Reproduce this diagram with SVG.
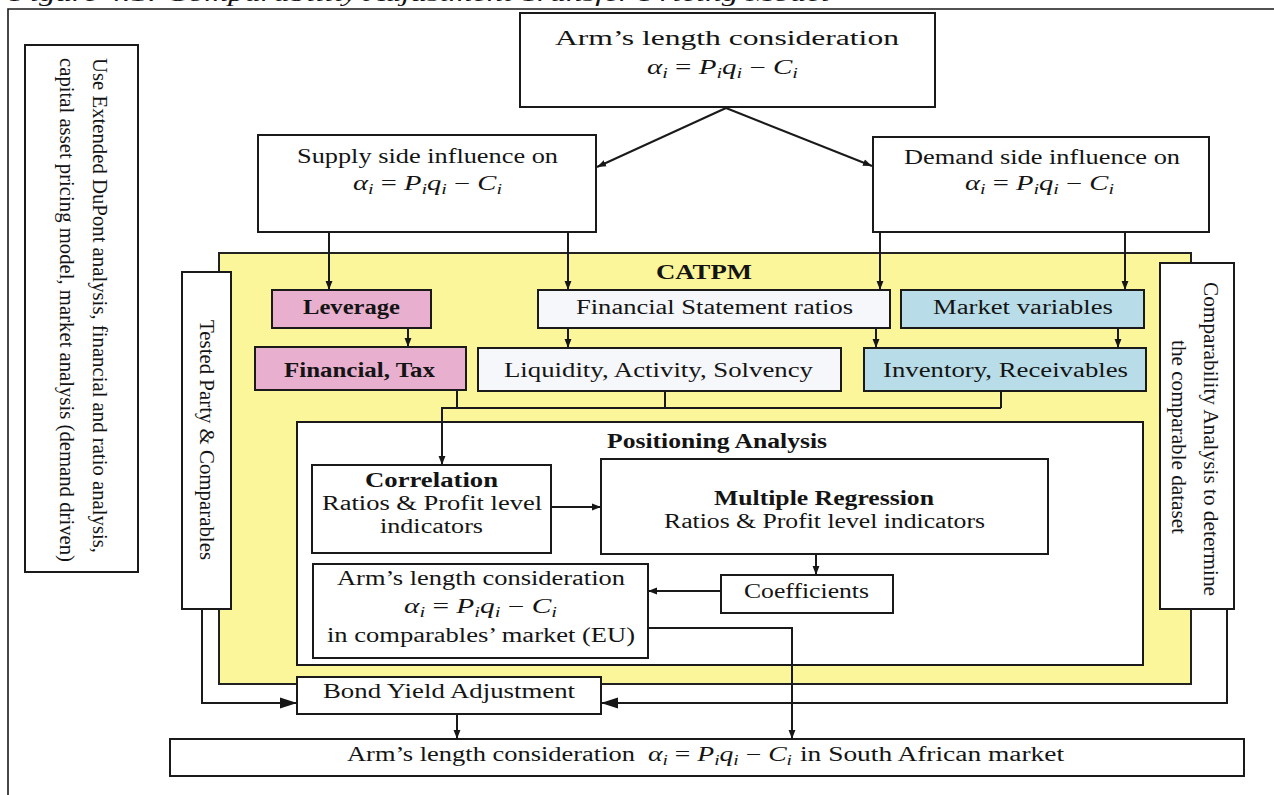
<svg xmlns="http://www.w3.org/2000/svg" width="1274" height="795" viewBox="0 0 1274 795">
  <defs>
    <marker id="ah" viewBox="0 0 10 10" refX="10" refY="5" markerWidth="9" markerHeight="9" markerUnits="userSpaceOnUse" orient="auto">
      <path d="M0,1.2 L10,5 L0,8.8 z" fill="#161616"/>
    </marker>
    <marker id="ahBig" viewBox="0 0 10 10" refX="10" refY="5" markerWidth="17" markerHeight="17" markerUnits="userSpaceOnUse" orient="auto">
      <path d="M0,1.8 L10,5 L0,8.2 z" fill="#161616"/>
    </marker>
  </defs>
  <style>
    .box{fill:#ffffff;stroke:#1a1a1a;stroke-width:2}
    .pink{fill:#E8AFCF}
    .blue{fill:#B8DDE8}
    .pale{fill:#F6F7FB}
    .panel{fill:#FCF69A;stroke:#222;stroke-width:2}
    .frame{fill:none;stroke:#1a1a1a;stroke-width:1.6}
    .t{font-family:"Liberation Serif","Times New Roman",serif;font-size:20px;fill:#141414}
    .b{font-weight:bold}
    .it{font-style:italic}
    .wire{fill:none;stroke:#1a1a1a;stroke-width:2}
    .arrow{marker-end:url(#ah)}
    .big{marker-end:url(#ahBig)}
  </style>

  <rect width="1274" height="795" fill="#ffffff"/>

  <!-- page caption, running off the top edge -->
  <text class="t it" x="10" y="0.5" font-size="22" textLength="820" lengthAdjust="spacingAndGlyphs">Figure 4.1: Comparability Adjustment Transfer Pricing Model</text>
  <path class="frame" d="M8,795 V9 H1274"/>

  <!-- CATPM panel -->
  <g id="catpm">
    <rect class="panel" x="219" y="253" width="972" height="431"/>
    <text class="t b" x="656" y="279" textLength="96" lengthAdjust="spacingAndGlyphs">CATPM</text>
  </g>

  <g id="method-note">
    <rect class="box" x="25" y="45" width="113" height="527"/>
    <text class="t" font-size="21" transform="translate(93,58) rotate(90)" textLength="495" lengthAdjust="spacingAndGlyphs">Use Extended DuPont analysis, financial and ratio analysis,</text>
    <text class="t" font-size="21" transform="translate(60,58) rotate(90)" textLength="504" lengthAdjust="spacingAndGlyphs">capital asset pricing model, market analysis (demand driven)</text>
  </g>

  <g id="arm-top">
    <rect class="box" x="520" y="13" width="415" height="94"/>
    <text class="t" font-size="22" x="555" y="45" textLength="344" lengthAdjust="spacingAndGlyphs">Arm’s length consideration</text>
    <text class="t" font-size="21" x="647" y="74" textLength="151" lengthAdjust="spacingAndGlyphs"><tspan class="it">α</tspan><tspan class="it" font-size="14" dy="4">i</tspan><tspan dy="-4"> = </tspan><tspan class="it">P</tspan><tspan class="it" font-size="14" dy="4">i</tspan><tspan class="it" dy="-4">q</tspan><tspan class="it" font-size="14" dy="4">i</tspan><tspan dy="-4"> − </tspan><tspan class="it">C</tspan><tspan class="it" font-size="14" dy="4">i</tspan></text>
  </g>

  <g id="supply">
    <rect class="box" x="258" y="135" width="338" height="97"/>
    <text class="t" x="297" y="163" textLength="261" lengthAdjust="spacingAndGlyphs">Supply side influence on</text>
    <text class="t" font-size="21" x="353" y="190" textLength="149" lengthAdjust="spacingAndGlyphs"><tspan class="it">α</tspan><tspan class="it" font-size="14" dy="4">i</tspan><tspan dy="-4"> = </tspan><tspan class="it">P</tspan><tspan class="it" font-size="14" dy="4">i</tspan><tspan class="it" dy="-4">q</tspan><tspan class="it" font-size="14" dy="4">i</tspan><tspan dy="-4"> − </tspan><tspan class="it">C</tspan><tspan class="it" font-size="14" dy="4">i</tspan></text>
  </g>

  <g id="demand">
    <rect class="box" x="873" y="137" width="336" height="95"/>
    <text class="t" x="904" y="164" textLength="276" lengthAdjust="spacingAndGlyphs">Demand side influence on</text>
    <text class="t" font-size="21" x="965" y="190" textLength="149" lengthAdjust="spacingAndGlyphs"><tspan class="it">α</tspan><tspan class="it" font-size="14" dy="4">i</tspan><tspan dy="-4"> = </tspan><tspan class="it">P</tspan><tspan class="it" font-size="14" dy="4">i</tspan><tspan class="it" dy="-4">q</tspan><tspan class="it" font-size="14" dy="4">i</tspan><tspan dy="-4"> − </tspan><tspan class="it">C</tspan><tspan class="it" font-size="14" dy="4">i</tspan></text>
  </g>

  <g id="tested-party">
    <rect class="box" x="182" y="272" width="49" height="337"/>
    <text class="t" font-size="21" transform="translate(200,320) rotate(90)" textLength="240" lengthAdjust="spacingAndGlyphs">Tested Party &amp; Comparables</text>
  </g>

  <g id="comparability">
    <rect class="box" x="1160" y="263" width="74" height="346"/>
    <text class="t" font-size="21" transform="translate(1204,282) rotate(90)" textLength="314" lengthAdjust="spacingAndGlyphs">Comparability Analysis to determine</text>
    <text class="t" font-size="21" transform="translate(1172,340) rotate(90)" textLength="194" lengthAdjust="spacingAndGlyphs">the comparable dataset</text>
  </g>

  <g id="leverage">
    <rect class="box pink" x="272" y="290" width="159" height="38"/>
    <text class="t b" x="303" y="314" textLength="97" lengthAdjust="spacingAndGlyphs">Leverage</text>
  </g>

  <g id="financial-tax">
    <rect class="box pink" x="255" y="347" width="211" height="43"/>
    <text class="t b" x="284" y="377" textLength="151" lengthAdjust="spacingAndGlyphs">Financial, Tax</text>
  </g>

  <g id="fs-ratios">
    <rect class="box pale" x="538" y="290" width="352" height="38"/>
    <text class="t" x="576" y="314" textLength="277" lengthAdjust="spacingAndGlyphs">Financial Statement ratios</text>
  </g>

  <g id="liquidity">
    <rect class="box pale" x="478" y="348" width="363" height="43"/>
    <text class="t" x="504" y="377" textLength="309" lengthAdjust="spacingAndGlyphs">Liquidity, Activity, Solvency</text>
  </g>

  <g id="market-variables">
    <rect class="box blue" x="901" y="290" width="243" height="38"/>
    <text class="t" x="933" y="314" textLength="180" lengthAdjust="spacingAndGlyphs">Market variables</text>
  </g>

  <g id="inventory">
    <rect class="box blue" x="864" y="348" width="282" height="43"/>
    <text class="t" x="883" y="377" textLength="245" lengthAdjust="spacingAndGlyphs">Inventory, Receivables</text>
  </g>

  <g id="positioning">
    <rect class="box" x="297" y="422" width="846" height="243"/>
    <text class="t b" x="607" y="448" textLength="220" lengthAdjust="spacingAndGlyphs">Positioning Analysis</text>
  </g>

  <g id="correlation">
    <rect class="box" x="312" y="465" width="239" height="88"/>
    <text class="t b" x="365" y="487" textLength="133" lengthAdjust="spacingAndGlyphs">Correlation</text>
    <text class="t" x="322" y="510" textLength="220" lengthAdjust="spacingAndGlyphs">Ratios &amp; Profit level</text>
    <text class="t" x="380" y="533" textLength="103" lengthAdjust="spacingAndGlyphs">indicators</text>
  </g>

  <g id="regression">
    <rect class="box" x="601" y="459" width="447" height="95"/>
    <text class="t b" x="714" y="505" textLength="220" lengthAdjust="spacingAndGlyphs">Multiple Regression</text>
    <text class="t" x="664" y="528" textLength="321" lengthAdjust="spacingAndGlyphs">Ratios &amp; Profit level indicators</text>
  </g>

  <g id="coefficients">
    <rect class="box" x="721" y="575" width="172" height="38"/>
    <text class="t" x="744" y="598" textLength="125" lengthAdjust="spacingAndGlyphs">Coefficients</text>
  </g>

  <g id="arm-eu">
    <rect class="box" x="313" y="564" width="335" height="94"/>
    <text class="t" x="337" y="585" textLength="288" lengthAdjust="spacingAndGlyphs">Arm’s length consideration</text>
    <text class="t" x="404" y="613" textLength="153" lengthAdjust="spacingAndGlyphs"><tspan class="it">α</tspan><tspan class="it" font-size="14" dy="4">i</tspan><tspan dy="-4"> = </tspan><tspan class="it">P</tspan><tspan class="it" font-size="14" dy="4">i</tspan><tspan class="it" dy="-4">q</tspan><tspan class="it" font-size="14" dy="4">i</tspan><tspan dy="-4"> − </tspan><tspan class="it">C</tspan><tspan class="it" font-size="14" dy="4">i</tspan></text>
    <text class="t" x="327" y="642" textLength="308" lengthAdjust="spacingAndGlyphs">in comparables’ market (EU)</text>
  </g>

  <g id="bond-yield">
    <rect class="box" x="297" y="677" width="304" height="37"/>
    <text class="t" x="323" y="698" textLength="252" lengthAdjust="spacingAndGlyphs">Bond Yield Adjustment</text>
  </g>

  <g id="arm-sa">
    <rect class="box" x="170" y="739" width="1074" height="37"/>
    <text class="t" x="347" y="761" textLength="288" lengthAdjust="spacingAndGlyphs">Arm’s length consideration</text>
    <text class="t" x="648" y="761" textLength="144" lengthAdjust="spacingAndGlyphs"><tspan class="it">α</tspan><tspan class="it" font-size="14" dy="4">i</tspan><tspan dy="-4"> = </tspan><tspan class="it">P</tspan><tspan class="it" font-size="14" dy="4">i</tspan><tspan class="it" dy="-4">q</tspan><tspan class="it" font-size="14" dy="4">i</tspan><tspan dy="-4"> − </tspan><tspan class="it">C</tspan><tspan class="it" font-size="14" dy="4">i</tspan></text>
    <text class="t" x="800" y="761" textLength="264" lengthAdjust="spacingAndGlyphs">in South African market</text>
  </g>

  <g id="connectors">
    <line class="wire arrow" x1="726" y1="108" x2="597" y2="167"/>
    <line class="wire arrow" x1="726" y1="108" x2="872" y2="166"/>
    <line class="wire arrow" x1="329" y1="232" x2="329" y2="290"/>
    <line class="wire arrow" x1="568" y1="232" x2="568" y2="290"/>
    <line class="wire arrow" x1="880" y1="232" x2="880" y2="290"/>
    <line class="wire arrow" x1="1125" y1="232" x2="1125" y2="290"/>
    <line class="wire arrow" x1="408" y1="328" x2="408" y2="347"/>
    <line class="wire arrow" x1="568" y1="328" x2="568" y2="348"/>
    <line class="wire arrow" x1="876" y1="328" x2="876" y2="348"/>
    <line class="wire arrow" x1="1118" y1="328" x2="1118" y2="348"/>
    <path class="wire" d="M457,390 V408 M665,391 V408 M1001,391 V408 M441,408 H1001"/>
    <line class="wire arrow" x1="442" y1="408" x2="442" y2="465"/>
    <line class="wire arrow" x1="551" y1="507" x2="601" y2="507"/>
    <line class="wire arrow" x1="816" y1="554" x2="816" y2="575"/>
    <line class="wire arrow" x1="721" y1="591" x2="648" y2="591"/>
    <path class="wire arrow" d="M648,628 H792 V739"/>
    <path class="wire big" d="M202,609 V703 H297"/>
    <path class="wire big" d="M1227,609 V703 H601"/>
    <line class="wire arrow" x1="457" y1="714" x2="457" y2="739"/>
  </g>
</svg>
